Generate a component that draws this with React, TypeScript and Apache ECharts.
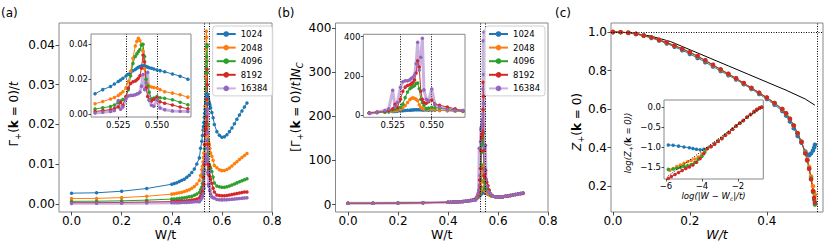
import React, { useEffect, useRef } from "react";
import * as echarts from "echarts";

const F = "DejaVu Sans";
const SIZE_LABELS = ["1024", "2048", "4096", "8192", "16384"];
const SIZE_N = [1024, 2048, 4096, 8192, 16384];
const PALETTE = ["#1f77b4", "#ff7f0e", "#2ca02c", "#d62728", "#9467bd"];

// ---------- panel (a)/(b): W/t grids ----------
const W_LEFT = [0, 0.1, 0.2, 0.3, 0.4, 0.41, 0.42, 0.43, 0.44, 0.45, 0.46, 0.47, 0.48, 0.49, 0.5];
const W_CRIT = [0.51, 0.515, 0.52, 0.5225, 0.525, 0.5265, 0.528, 0.53, 0.5315, 0.533, 0.5345, 0.536, 0.537, 0.538, 0.539, 0.54, 0.541, 0.542, 0.543, 0.544, 0.545, 0.5465, 0.548, 0.55, 0.552, 0.555, 0.56, 0.565, 0.57];
const W_RIGHT = [0.58, 0.59, 0.6, 0.61, 0.62, 0.63, 0.64, 0.65, 0.66, 0.67, 0.68, 0.69, 0.7];

// Gamma_+(k=0)/t for each system size
const G1024_L = [0.00273, 0.00283, 0.00322, 0.00391, 0.00498, 0.00518, 0.00537, 0.00566, 0.00596, 0.00625, 0.00674, 0.00723, 0.00791, 0.00879, 0.01006];
const G1024_C = [0.0116, 0.014, 0.0158, 0.0172, 0.0186, 0.0195, 0.0205, 0.0218, 0.0228, 0.0238, 0.0248, 0.0256, 0.0262, 0.0268, 0.0272, 0.0275, 0.0277, 0.0275, 0.0272, 0.0269, 0.0266, 0.0262, 0.0258, 0.0253, 0.0249, 0.0242, 0.023, 0.0217, 0.02];
const G1024_R = [0.0182, 0.0173, 0.0168, 0.0169, 0.0174, 0.0182, 0.0191, 0.0202, 0.0213, 0.0224, 0.0234, 0.0244, 0.0254];

const G2048_L = [0.00137, 0.00142, 0.00161, 0.00195, 0.00249, 0.00259, 0.00269, 0.00283, 0.00298, 0.00313, 0.00337, 0.00361, 0.00396, 0.00439, 0.00503];
const G2048_C = [0.0059, 0.0072, 0.0086, 0.0095, 0.0106, 0.0117, 0.0128, 0.015, 0.0186, 0.0245, 0.032, 0.039, 0.0418, 0.0434, 0.042, 0.04, 0.036, 0.026, 0.0195, 0.017, 0.016, 0.0155, 0.0152, 0.0149, 0.014, 0.0128, 0.012, 0.011, 0.0097];
const G2048_R = [0.0091, 0.00864, 0.0084, 0.00845, 0.00869, 0.00908, 0.00957, 0.0101, 0.01064, 0.01118, 0.01172, 0.01221, 0.0127];

const G4096_L = [0.00068, 0.00071, 0.00081, 0.00098, 0.00125, 0.00129, 0.00134, 0.00142, 0.00149, 0.00156, 0.00168, 0.00181, 0.00198, 0.0022, 0.00251];
const G4096_C = [0.0029, 0.0036, 0.0043, 0.0052, 0.0066, 0.0075, 0.0083, 0.01, 0.0139, 0.022, 0.029, 0.033, 0.0345, 0.0358, 0.037, 0.0395, 0.04, 0.033, 0.02, 0.016, 0.0125, 0.0086, 0.0092, 0.01, 0.0094, 0.009, 0.0082, 0.0068, 0.0053];
const G4096_R = [0.00454, 0.00432, 0.0042, 0.00422, 0.00435, 0.00454, 0.00479, 0.00505, 0.00532, 0.00559, 0.00586, 0.0061, 0.00635];

const G8192_L = [0.00034, 0.00035, 0.0004, 0.00049, 0.00062, 0.00065, 0.00067, 0.00071, 0.00074, 0.00078, 0.00084, 0.0009, 0.00099, 0.0011, 0.00126];
const G8192_C = [0.0015, 0.002, 0.0025, 0.0032, 0.004, 0.0068, 0.005, 0.01, 0.0149, 0.0175, 0.0185, 0.019, 0.0196, 0.0205, 0.022, 0.0263, 0.0339, 0.03, 0.015, 0.01, 0.008, 0.0075, 0.0085, 0.0095, 0.007, 0.0062, 0.0052, 0.004, 0.003];
const G8192_R = [0.00227, 0.00216, 0.0021, 0.00211, 0.00217, 0.00227, 0.00239, 0.00253, 0.00266, 0.0028, 0.00292, 0.003, 0.00305];

const G16384_L = [0.00017, 0.00018, 0.0002, 0.00024, 0.00031, 0.00032, 0.00034, 0.00035, 0.00037, 0.00039, 0.00042, 0.00045, 0.00049, 0.00055, 0.00063];
const G16384_C = [0.0006, 0.001, 0.0015, 0.002, 0.0078, 0.0027, 0.004, 0.0087, 0.0104, 0.0107, 0.0107, 0.011, 0.0115, 0.0118, 0.0125, 0.016, 0.0227, 0.014, 0.018, 0.0239, 0.0079, 0.005, 0.0045, 0.0082, 0.0034, 0.0025, 0.0018, 0.0016, 0.0015];
const G16384_R = [0.00114, 0.00108, 0.00105, 0.00106, 0.00109, 0.00114, 0.0012, 0.00126, 0.00133, 0.0014, 0.00146, 0.00153, 0.00159];

const W_DASHED = [0.525, 0.55];

// ---------- panel (c) ----------
const W_Z = [0, 0.02, 0.04, 0.06, 0.08, 0.1, 0.12, 0.14, 0.16, 0.18, 0.2, 0.22, 0.24, 0.26, 0.28, 0.3, 0.32, 0.34, 0.36, 0.38, 0.4, 0.42, 0.44, 0.45, 0.46, 0.47, 0.48, 0.49, 0.5, 0.505, 0.51, 0.515, 0.52, 0.523, 0.525];
const Z_1024 = [1.0, 0.999, 0.995, 0.989, 0.98, 0.969, 0.955, 0.94, 0.923, 0.905, 0.886, 0.865, 0.843, 0.82, 0.797, 0.775, 0.753, 0.729, 0.704, 0.678, 0.652, 0.622, 0.59, 0.566, 0.535, 0.5, 0.46, 0.425, 0.38, 0.365, 0.36, 0.37, 0.385, 0.4, 0.415];
const Z_2048 = [1.0, 0.999, 0.996, 0.99, 0.982, 0.971, 0.958, 0.944, 0.928, 0.911, 0.893, 0.872, 0.85, 0.827, 0.803, 0.78, 0.757, 0.733, 0.708, 0.683, 0.658, 0.63, 0.598, 0.576, 0.548, 0.513, 0.475, 0.432, 0.375, 0.34, 0.3, 0.25, 0.2, 0.17, 0.155];
const Z_4096 = [1.0, 0.999, 0.996, 0.99, 0.982, 0.972, 0.959, 0.945, 0.929, 0.912, 0.894, 0.874, 0.852, 0.829, 0.805, 0.782, 0.759, 0.734, 0.709, 0.684, 0.659, 0.631, 0.6, 0.577, 0.549, 0.514, 0.474, 0.43, 0.37, 0.333, 0.29, 0.24, 0.17, 0.13, 0.105];
const Z_8192 = [1.0, 0.999, 0.996, 0.99, 0.982, 0.972, 0.959, 0.945, 0.93, 0.913, 0.895, 0.875, 0.853, 0.83, 0.806, 0.783, 0.76, 0.735, 0.71, 0.685, 0.66, 0.632, 0.6, 0.578, 0.55, 0.515, 0.475, 0.43, 0.37, 0.335, 0.29, 0.235, 0.175, 0.14, 0.115];
const W_BARE = [0, 0.05, 0.1, 0.15, 0.2, 0.25, 0.3, 0.35, 0.4, 0.45, 0.5, 0.525];
const Z_BARE = [1.0, 0.995, 0.978, 0.95, 0.908, 0.866, 0.824, 0.782, 0.74, 0.698, 0.652, 0.62];
const W_C = 0.525;
const Z_ONE = 1.0;

// inset (c): log|W-Wc| vs log Z
const LX_COMMON = [-3.7, -3.5, -3.3, -3.1, -2.9, -2.7, -2.5, -2.3, -2.1, -1.9, -1.7, -1.5, -1.3, -1.1, -0.95, -0.8, -0.68];
const LY_COMMON = [-1.03, -0.98, -0.92, -0.85, -0.78, -0.7, -0.63, -0.55, -0.47, -0.4, -0.33, -0.25, -0.18, -0.11, -0.06, -0.02, 0.0];
const LX_1024 = [-5.87, -5.6, -5.3, -5.0, -4.7, -4.5, -4.3, -4.1, -3.9];
const LY_1024 = [-0.94, -0.95, -0.97, -0.99, -1.01, -1.03, -1.05, -1.06, -1.05];
const LX_2048 = [-5.78, -5.6, -5.4, -5.2, -5.0, -4.8, -4.6, -4.4, -4.2, -4.0, -3.85];
const LY_2048 = [-1.57, -1.53, -1.48, -1.44, -1.4, -1.36, -1.33, -1.29, -1.24, -1.17, -1.1];
const LX_4096 = [-5.87, -5.6, -5.4, -5.2, -5.0, -4.8, -4.6, -4.4, -4.2, -4.0, -3.85];
const LY_4096 = [-1.55, -1.54, -1.52, -1.5, -1.48, -1.46, -1.43, -1.38, -1.3, -1.22, -1.12];
const LX_8192 = [-5.87, -5.7, -5.5, -5.3, -5.1, -4.9, -4.7, -4.5, -4.3, -4.1, -3.9];
const LY_8192 = [-1.78, -1.73, -1.68, -1.63, -1.58, -1.53, -1.49, -1.44, -1.37, -1.28, -1.16];
const LX_FIT = [-5.9, -0.65];
const LY_FIT = [-1.72, 0.02];

// tick values
const XT_AB = [0, 0.2, 0.4, 0.6, 0.8];
const YT_A = [0, 0.01, 0.02, 0.03, 0.04];
const YT_B = [0, 100, 200, 300, 400];
const XT_C = [0, 0.2, 0.4];
const YT_C = [0.2, 0.4, 0.6, 0.8, 1.0];
const XT_IN_AB = [0.525, 0.55];
const YT_IN_A = [0, 0.02, 0.04];
const YT_IN_B = [0, 200, 400];
const XT_IN_C = [-6, -4, -2];
const YT_IN_C = [-1.5, -1.0, -0.5, 0.0];

const GL = [G1024_L, G2048_L, G4096_L, G8192_L, G16384_L];
const GC = [G1024_C, G2048_C, G4096_C, G8192_C, G16384_C];
const GR = [G1024_R, G2048_R, G4096_R, G8192_R, G16384_R];

const zip = (xs: number[], ys: number[]) => xs.map((x, i) => [x, ys[i]]);

const fmtTick = (v: number, digits: number) => {
  const s = Math.abs(v).toFixed(digits);
  return v < -1e-12 ? "\u2212" + s : s;
};

function axis(gi: number, min: number, max: number, ticks: number[], digits: number, fs: number, margin: number, z: number) {
  return {
    type: "value",
    gridIndex: gi,
    min,
    max,
    z,
    axisLine: { show: false, onZero: false },
    splitLine: { show: false },
    axisTick: { show: true, length: fs > 10 ? 3.5 : 2.5, lineStyle: { color: "#222", width: 0.8 }, customValues: ticks },
    axisLabel: {
      show: true,
      customValues: ticks,
      fontSize: fs,
      fontFamily: F,
      color: "#000",
      margin,
      hideOverlap: false,
      formatter: (v: number) => fmtTick(Number(v), digits),
    },
  };
}

function line(name: string, color: string, data: number[][], xi: number, z: number, extra: any = {}) {
  const purple = color === PALETTE[4];
  return {
    type: "line",
    name,
    xAxisIndex: xi,
    yAxisIndex: xi,
    data,
    z,
    symbol: "circle",
    symbolSize: 3.5,
    showSymbol: true,
    silent: true,
    lineStyle: purple ? { width: 3, color, opacity: 0.5 } : { width: 1, color },
    itemStyle: { color },
    ...extra,
  };
}

const dotted = { type: [1, 1.5], color: "#000", width: 1 };
function vmarks(vals: number[]) {
  return { silent: true, symbol: ["none", "none"], label: { show: false }, lineStyle: dotted, data: vals.map((v) => ({ xAxis: v })) };
}

function rich(fs: number) {
  const lh = fs + 4;
  const sfs = Math.round(fs * 0.7 * 10) / 10;
  return {
    r: { fontSize: fs, fontFamily: F, lineHeight: lh, fill: "#000" },
    b: { fontSize: fs, fontFamily: F, fontWeight: "bold", lineHeight: lh, fill: "#000" },
    i: { fontSize: fs, fontFamily: F, fontStyle: "italic", lineHeight: lh, fill: "#000" },
    s: { fontSize: sfs, fontFamily: F, lineHeight: sfs, verticalAlign: "bottom", fill: "#000" },
    si: { fontSize: sfs, fontFamily: F, fontStyle: "italic", lineHeight: sfs, verticalAlign: "bottom", fill: "#000" },
  };
}

function txt(text: string, x: number, y: number, fs: number, rot = 0, align = "center") {
  return {
    type: "text",
    x,
    y,
    rotation: rot,
    z: 20,
    silent: true,
    style: {
      text,
      rich: rich(fs),
      fontSize: fs,
      fontFamily: F,
      fill: "#000",
      align,
      textAlign: align,
      verticalAlign: "middle",
      textVerticalAlign: "middle",
    },
  };
}

function buildOption() {
  const W_MAIN = [...W_LEFT, ...W_CRIT, ...W_RIGHT];
  const gMain = SIZE_N.map((_, i) => [...GL[i], ...GC[i], ...GR[i]]);
  const series: any[] = [];
  // (a) main
  SIZE_LABELS.forEach((n, i) => {
    series.push(line(n, PALETTE[i], zip(W_MAIN, gMain[i]), 0, 2, i === 0 ? { markLine: vmarks(W_DASHED) } : {}));
  });
  // (b) main: [Gamma/t] * N_C
  SIZE_LABELS.forEach((n, i) => {
    series.push(line(n, PALETTE[i], zip(W_MAIN, gMain[i].map((g) => g * SIZE_N[i])), 1, 2, i === 0 ? { markLine: vmarks(W_DASHED) } : {}));
  });
  // (a) inset
  SIZE_LABELS.forEach((n, i) => {
    series.push(line(n, PALETTE[i], zip(W_CRIT, GC[i]), 3, 6, i === 0 ? { markLine: vmarks(W_DASHED) } : {}));
  });
  // (b) inset
  SIZE_LABELS.forEach((n, i) => {
    series.push(line(n, PALETTE[i], zip(W_CRIT, GC[i].map((g) => g * SIZE_N[i])), 4, 6, i === 0 ? { markLine: vmarks(W_DASHED) } : {}));
  });
  // (c) main
  series.push({
    type: "line",
    name: "bare",
    xAxisIndex: 2,
    yAxisIndex: 2,
    data: zip(W_BARE, Z_BARE),
    symbol: "none",
    z: 2,
    silent: true,
    lineStyle: { color: "#000", width: 1 },
    markLine: {
      silent: true,
      symbol: ["none", "none"],
      label: { show: false },
      lineStyle: dotted,
      data: [{ xAxis: W_C }, { yAxis: Z_ONE }],
    },
  });
  const zs = [Z_1024, Z_2048, Z_4096, Z_8192];
  zs.forEach((z, i) => {
    series.push(line(SIZE_LABELS[i], PALETTE[i], zip(W_Z, z), 2, 3, { symbolSize: 4.5 }));
  });
  // (c) inset
  const lheads = [
    [LX_1024, LY_1024],
    [LX_2048, LY_2048],
    [LX_4096, LY_4096],
    [LX_8192, LY_8192],
  ];
  lheads.forEach(([lx, ly], i) => {
    series.push(line(SIZE_LABELS[i], PALETTE[i], [...zip(lx, ly), ...zip(LX_COMMON, LY_COMMON)], 5, 6, { symbolSize: 3.5 }));
  });
  series.push({
    type: "line",
    name: "fit",
    xAxisIndex: 5,
    yAxisIndex: 5,
    data: zip(LX_FIT, LY_FIT),
    symbol: "none",
    z: 8,
    silent: true,
    lineStyle: { color: "#000", width: 1, type: [1, 1.5] },
  });

  const grids = [
    { left: 59, top: 23, width: 213, height: 189, z: 0 },
    { left: 335.5, top: 23, width: 212.5, height: 189, z: 0 },
    { left: 611, top: 23, width: 212, height: 189, z: 0 },
    { left: 91, top: 34, width: 100, height: 83, z: 4 },
    { left: 363.3, top: 34.3, width: 101.7, height: 83, z: 4 },
    { left: 664, top: 100, width: 99.3, height: 79, z: 4 },
  ].map((g) => ({ ...g, show: true, borderColor: "#888", borderWidth: 1, backgroundColor: "#fff", containLabel: false }));

  const xAxis = [
    axis(0, -0.05, 0.8, XT_AB, 1, 12, 3, 1),
    axis(1, -0.05, 0.8, XT_AB, 1, 12, 3, 1),
    axis(2, -0.005, 0.546, XT_C, 1, 12, 3, 1),
    axis(3, 0.5074, 0.572, XT_IN_AB, 3, 8.5, 3, 5),
    axis(4, 0.5062, 0.5713, XT_IN_AB, 3, 8.5, 3, 5),
    axis(5, -6.11, -0.59, XT_IN_C, 0, 8.5, 2.5, 5),
  ];
  const yAxis = [
    axis(0, -0.002, 0.0455, YT_A, 2, 12, 4, 1),
    axis(1, -17, 412, YT_B, 0, 12, 4, 1),
    axis(2, 0.066, 1.0465, YT_C, 1, 12, 4, 1),
    axis(3, -0.0017, 0.0459, YT_IN_A, 2, 8.5, 3, 5),
    axis(4, -10, 412, YT_IN_B, 0, 8.5, 3, 5),
    axis(5, -1.79, 0.18, YT_IN_C, 1, 8.5, 3, 5),
  ];

  const legendBase = {
    orient: "vertical",
    top: 26,
    itemWidth: 19,
    itemHeight: 7,
    itemGap: 4.6,
    padding: [3.5, 5, 3, 3],
    borderColor: "#d0d0d0",
    borderWidth: 1,
    borderRadius: 3,
    backgroundColor: "rgba(255,255,255,0.85)",
    textStyle: { fontSize: 8.5, fontFamily: F, color: "#000" },
    data: SIZE_LABELS,
    selectedMode: false,
    z: 10,
  };

  const graphic = [
    txt("{r|(a)}", 1, 13, 12, 0, "left"),
    txt("{r|(b)}", 277.5, 13, 12, 0, "left"),
    txt("{r|(c)}", 555, 13, 12, 0, "left"),
    txt("{r|W/t}", 165.5, 234.5, 12.5),
    txt("{r|W/t}", 441.7, 234.5, 12.5),
    txt("{i|W/t}", 717, 234.5, 12.5),
    txt("{r|Γ}{s|+}{r|(}{b|k}{r| = 0)/}{i|t}", 14, 114, 12, Math.PI / 2),
    txt("{r|[Γ}{s|+}{r|(}{b|k}{r| = 0)/}{i|t}{r|]}{i|N}{si|C}", 295.5, 107, 12, Math.PI / 2),
    txt("{i|Z}{s|+}{r|(}{b|k}{r| = 0)}", 577, 122, 12, Math.PI / 2),
    txt("{i|log(Z}{s|+}{i|(}{b|k}{i| = 0))}", 628, 143, 8.5, Math.PI / 2),
    txt("{i|log(|W \u2212 W}{si|c}{i||/t)}", 713.5, 196, 8.5),
  ];

  return {
    animation: false,
    backgroundColor: "#fff",
    textStyle: { fontFamily: F },
    grid: grids,
    xAxis,
    yAxis,
    legend: [
      { ...legendBase, left: 212.7 },
      { ...legendBase, left: 485 },
    ],
    series,
    graphic,
  };
}

export default function App() {
  const ref = useRef<HTMLDivElement>(null);
  useEffect(() => {
    if (!ref.current) return;
    const chart = echarts.init(ref.current, undefined, { renderer: "svg" });
    chart.setOption(buildOption() as any);
    return () => chart.dispose();
  }, []);
  return (
    <div
      ref={ref}
      style={{ position: "fixed", left: 0, top: 0, width: 830, height: 249, background: "#fff" }}
    />
  );
}
